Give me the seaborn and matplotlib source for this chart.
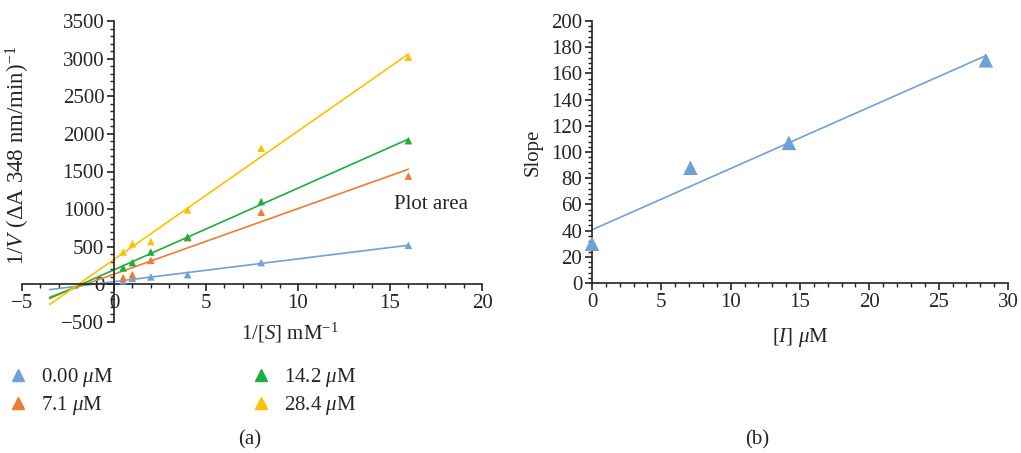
import numpy as np
import pandas as pd
import matplotlib
matplotlib.use("Agg")
import matplotlib.pyplot as plt
from matplotlib.ticker import MultipleLocator
from matplotlib.lines import Line2D
import seaborn as sns

sns.set_style("ticks")
plt.rcParams['font.family'] = ['Liberation Serif', 'DejaVu Serif']
plt.rcParams['mathtext.fontset'] = 'custom'
plt.rcParams['mathtext.rm'] = 'Liberation Serif'
plt.rcParams['mathtext.it'] = 'Liberation Serif:italic'

# ---- data ----
inv_s = [0.5, 1, 2, 4, 8, 16]
inhibitor_labels = [r"0.00 $\mathit{\mu}$M", r"7.1 $\mathit{\mu}$M", r"14.2 $\mathit{\mu}$M", r"28.4 $\mathit{\mu}$M"]
v_0 = [50, 80, 100, 130, 290, 520]
v_71 = [90, 130, 320, 620, 960, 1440]
v_142 = [220, 290, 430, 630, 1100, 1910]
v_284 = [430, 540, 570, 990, 1810, 3020]
colors = ["#6FA1D9", "#EE7D31", "#1BB03B", "#FFC000"]

inhibitor = [0, 7.1, 14.2, 28.4]
slopes = [30, 88, 107, 170]

fig = plt.figure(figsize=(10.21, 4.53), dpi=100)
ax1 = fig.add_axes([22/1021, 1-322/453, 460/1021, 301/453])
ax2 = fig.add_axes([592/1021, 1-283/453, 416/1021, 262/453])

FS = 15
series = [v_0, v_71, v_142, v_284]
xfit = np.array([-3.5, 16])
for vals, lab, c in zip(series, inhibitor_labels, colors):
    df = pd.DataFrame({"x": inv_s, "y": vals})
    m, b = np.polyfit(df.x, df.y, 1)
    sns.lineplot(x=xfit, y=m*xfit+b, ax=ax1, color=c, lw=1.2)
    sns.scatterplot(data=df, x="x", y="y", ax=ax1, color=c, marker="^", s=30,
                    edgecolor="none", zorder=3)

ax1.set_xlim(-5, 20)
ax1.set_ylim(-500, 3500)
for s in ["top", "right"]:
    ax1.spines[s].set_visible(False)
ax1.spines["left"].set_position(("data", 0))
ax1.spines["bottom"].set_position(("data", 0))
ax1.xaxis.set_major_locator(MultipleLocator(5))
ax1.xaxis.set_minor_locator(MultipleLocator(1))
ax1.yaxis.set_major_locator(MultipleLocator(500))
ax1.yaxis.set_minor_locator(MultipleLocator(100))
ax1.tick_params(axis="both", which="major", labelsize=FS, length=5, width=1.2, direction="out", color="#222222", pad=2)
ax1.tick_params(axis="both", which="minor", length=3, width=1, direction="out", color="#222222")
ax1.set_xticks([-5, 0, 5, 10, 15, 20])
ax1.set_xticklabels(["\u22125", "0", "5", "10", "15", "20"])
ax1.set_yticks(list(range(-500, 3501, 500)))
ax1.set_yticklabels(["\u2212500"] + [str(v) for v in range(0, 3501, 500)])
for s in ["left", "bottom"]:
    ax1.spines[s].set_linewidth(1.2)
    ax1.spines[s].set_color("#222222")
ax1.set_xlabel("")
ax1.set_ylabel("")
ax1.text(15.2, 1060, "Plot area", fontsize=FS, va="center", ha="left")

fig.text(18/1021, 1-155/453, r"1/$\mathit{V}$ ($\Delta$A 348 nm/min)$^{-1}$", rotation=90,
         ha="center", va="center", fontsize=16.5)
fig.text(290/1021, 1-333/453, r"1/[$\mathit{S}$] mM$^{-1}$", ha="center", va="center", fontsize=FS)

# legend
handles = [Line2D([], [], marker="^", linestyle="none", color=c, markersize=8) for c in colors]
fig.legend(handles, inhibitor_labels,
           loc="upper left", bbox_to_anchor=(8/1021, 1-366/453), ncol=2, frameon=False,
           fontsize=FS, handletextpad=0.6, columnspacing=6.6, labelspacing=0.25,
           handlelength=1.0, borderpad=0, borderaxespad=0)

# panel b
df2 = pd.DataFrame({"I": inhibitor, "slope": slopes})
m2, b2 = np.polyfit(df2.I, df2.slope, 1)
xf2 = np.array([0, 28.4])
sns.lineplot(x=xf2, y=m2*xf2+b2, ax=ax2, color=colors[0], lw=1.2)
sns.scatterplot(data=df2, x="I", y="slope", ax=ax2, color=colors[0], marker="^", s=110,
                edgecolor="none", zorder=3, clip_on=False)
ax2.set_xlim(0, 30)
ax2.set_ylim(0, 200)
for s in ["top", "right"]:
    ax2.spines[s].set_visible(False)
for s in ["left", "bottom"]:
    ax2.spines[s].set_linewidth(1.2)
    ax2.spines[s].set_color("#222222")
ax2.xaxis.set_major_locator(MultipleLocator(5))
ax2.xaxis.set_minor_locator(MultipleLocator(1))
ax2.yaxis.set_major_locator(MultipleLocator(20))
ax2.yaxis.set_minor_locator(MultipleLocator(4))
ax2.tick_params(axis="both", which="major", labelsize=FS, length=5, width=1.2, color="#222222", pad=2)
ax2.tick_params(axis="both", which="minor", length=3, width=1, color="#222222")
ax2.set_xlabel(r"[$\mathit{I}$] $\mathit{\mu}$M", fontsize=FS, labelpad=10)
ax2.set_ylabel("Slope", fontsize=FS, labelpad=6)

fig.text(250/1021, 1-440/453, "(a)", ha="center", va="center", fontsize=FS)
fig.text(757/1021, 1-440/453, "(b)", ha="center", va="center", fontsize=FS)

fig.savefig("out.png", dpi=100)
